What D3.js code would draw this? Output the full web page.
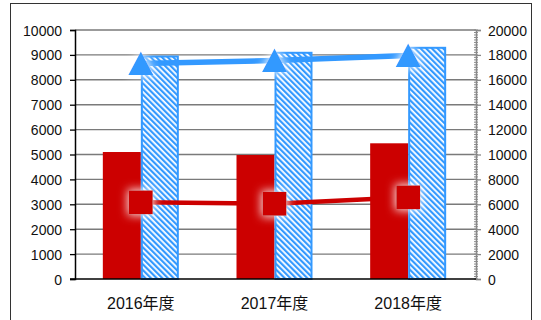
<!DOCTYPE html>
<html>
<head>
<meta charset="utf-8">
<script src="https://cdn.jsdelivr.net/npm/d3@7"></script>
<style>
  html, body { margin: 0; padding: 0; background: #fff; }
  svg { display: block; }
  text { font-family: "Liberation Sans", Arial, "Noto Sans CJK JP", sans-serif; fill: #111; }
</style>
</head>
<body>
<svg id="chart" width="541" height="320"></svg>
<script>
// Fiscal-year categories and the four series
const categories = ["2016年度", "2017年度", "2018年度"];
const redBarValues = [5100, 4980, 5450];      // left axis
const blueBarValues = [17950, 18250, 18650];  // right axis
const redLineValues = [3080, 3020, 3280];     // left axis
const blueLineValues = [17300, 17550, 17950]; // right axis
const leftTicks = [0, 1000, 2000, 3000, 4000, 5000, 6000, 7000, 8000, 9000, 10000];
const rightTicks = [0, 2000, 4000, 6000, 8000, 10000, 12000, 14000, 16000, 18000, 20000];

const RED = "#cc0000";
const BLUE = "#3399ff";

const svg = d3.select("#chart");
const plot = { left: 75, right: 476, top: 30, bottom: 279 };

const x = d3.scaleBand().domain(categories).range([plot.left, plot.right]).padding(0);
const yL = d3.scaleLinear().domain([0, 10000]).range([plot.bottom, plot.top]);
const yR = d3.scaleLinear().domain([0, 20000]).range([plot.bottom, plot.top]);
const barHalf = 38;
const sub = d3.scaleBand().domain(["red", "blue"])
  .range([x.bandwidth() / 2 - barHalf - 1, x.bandwidth() / 2 + barHalf - 1]).padding(0);

const defs = svg.append("defs");

// Diagonal hatch for the blue bars
const pat = defs.append("pattern")
  .attr("id", "hatch").attr("patternUnits", "userSpaceOnUse")
  .attr("width", 4).attr("height", 10)
  .attr("patternTransform", "rotate(-45)");
pat.append("rect").attr("width", 4).attr("height", 10).attr("fill", "#fff");
pat.append("rect").attr("width", 2.2).attr("height", 10).attr("fill", BLUE);

// Soft white halo behind the markers
const glow = defs.append("filter").attr("id", "glow")
  .attr("x", "-100%").attr("y", "-100%").attr("width", "300%").attr("height", "300%");
glow.append("feMorphology").attr("in", "SourceAlpha").attr("operator", "dilate").attr("radius", 1).attr("result", "d");
glow.append("feGaussianBlur").attr("in", "d").attr("stdDeviation", 5).attr("result", "b");
glow.append("feFlood").attr("flood-color", "#ffffff").attr("flood-opacity", 0.9).attr("result", "f");
glow.append("feComposite").attr("in", "f").attr("in2", "b").attr("operator", "in").attr("result", "g");
const gm = glow.append("feMerge");
gm.append("feMergeNode").attr("in", "g");
gm.append("feMergeNode").attr("in", "SourceGraphic");

// Outer frame
svg.append("rect").attr("x", 10.5).attr("y", 3.5).attr("width", 521).attr("height", 340)
  .attr("fill", "none").attr("stroke", "#333").attr("stroke-width", 1);

// Horizontal gridlines
svg.append("g").selectAll("line").data(leftTicks.slice(1)).join("line")
  .attr("x1", plot.left).attr("x2", plot.right)
  .attr("y1", d => yL(d)).attr("y2", d => yL(d))
  .attr("stroke", "#7a7a7a").attr("stroke-width", 1.4);

// Bars
const groups = svg.append("g").selectAll("g").data(categories).join("g")
  .attr("transform", d => `translate(${x(d)},0)`);
groups.append("rect")
  .attr("x", sub("red")).attr("width", sub.bandwidth())
  .attr("y", (d, i) => yL(redBarValues[i]))
  .attr("height", (d, i) => plot.bottom - yL(redBarValues[i]))
  .attr("fill", RED);
groups.append("rect")
  .attr("x", sub("blue") + 1).attr("width", sub.bandwidth() - 2)
  .attr("y", (d, i) => yR(blueBarValues[i]) + 1)
  .attr("height", (d, i) => plot.bottom - yR(blueBarValues[i]) - 1)
  .attr("fill", "url(#hatch)").attr("stroke", BLUE).attr("stroke-width", 2);

// Left axis
const axL = svg.append("g").attr("transform", `translate(${plot.left},0)`)
  .call(d3.axisLeft(yL).tickValues(leftTicks).tickSize(5).tickPadding(8).tickFormat(d3.format("d")));
axL.select(".domain").attr("stroke", "#000").attr("stroke-width", 1.5);
axL.selectAll(".tick line").attr("stroke", "#000").attr("stroke-width", 1.3);
axL.selectAll("text").attr("font-size", 14).attr("fill", "#111").attr("dy", "0.36em")
  .style("font-family", '"Liberation Sans", Arial, sans-serif');

// Right axis with minor ticks
const minor = d3.range(0, 20001, 200);
svg.append("g").selectAll("line").data(minor).join("line")
  .attr("x1", plot.right - 2).attr("x2", plot.right + 2)
  .attr("y1", d => yR(d)).attr("y2", d => yR(d))
  .attr("stroke", "#8a8a8a").attr("stroke-width", 1);
const axR = svg.append("g").attr("transform", `translate(${plot.right},0)`)
  .call(d3.axisRight(yR).tickValues(rightTicks).tickSize(5).tickPadding(7).tickFormat(d3.format("d")));
axR.select(".domain").attr("stroke", "#888").attr("stroke-width", 1.5);
axR.selectAll(".tick line").attr("stroke", "#888").attr("stroke-width", 1.3);
axR.selectAll("text").attr("font-size", 14).attr("fill", "#111").attr("dy", "0.36em")
  .style("font-family", '"Liberation Sans", Arial, sans-serif');

// Baseline
svg.append("line").attr("x1", plot.left - 5).attr("x2", plot.right)
  .attr("y1", yL(0)).attr("y2", yL(0)).attr("stroke", "#000").attr("stroke-width", 1.5);

// Category labels
svg.append("g").selectAll("text").data(categories).join("text")
  .attr("x", d => x(d) + x.bandwidth() / 2 - 1).attr("y", 309)
  .attr("text-anchor", "middle").attr("font-size", 16)
  .text(d => d);

const cx = d => x(d) + x.bandwidth() / 2 - 1;

// Red line with square markers
svg.append("path").datum(categories)
  .attr("fill", "none").attr("stroke", RED).attr("stroke-width", 4.5)
  .attr("d", d3.line().x(cx).y((d, i) => yL(redLineValues[i])));
svg.append("g").selectAll("path").data(categories).join("path")
  .attr("transform", (d, i) => `translate(${cx(d)},${yL(redLineValues[i])})`)
  .attr("d", d3.symbol().type(d3.symbolSquare).size(24 * 24)())
  .attr("fill", RED).attr("filter", "url(#glow)");

// Blue line with triangle markers
svg.append("path").datum(categories)
  .attr("fill", "none").attr("stroke", BLUE).attr("stroke-width", 5.5)
  .attr("d", d3.line().x(cx).y((d, i) => yR(blueLineValues[i])));
const tri = "M0,-12L12.5,11.5L-12.5,11.5Z";
svg.append("g").selectAll("path").data(categories).join("path")
  .attr("transform", (d, i) => `translate(${cx(d)},${yR(blueLineValues[i])})`)
  .attr("d", tri)
  .attr("fill", BLUE).attr("filter", "url(#glow)");
</script>
</body>
</html>
